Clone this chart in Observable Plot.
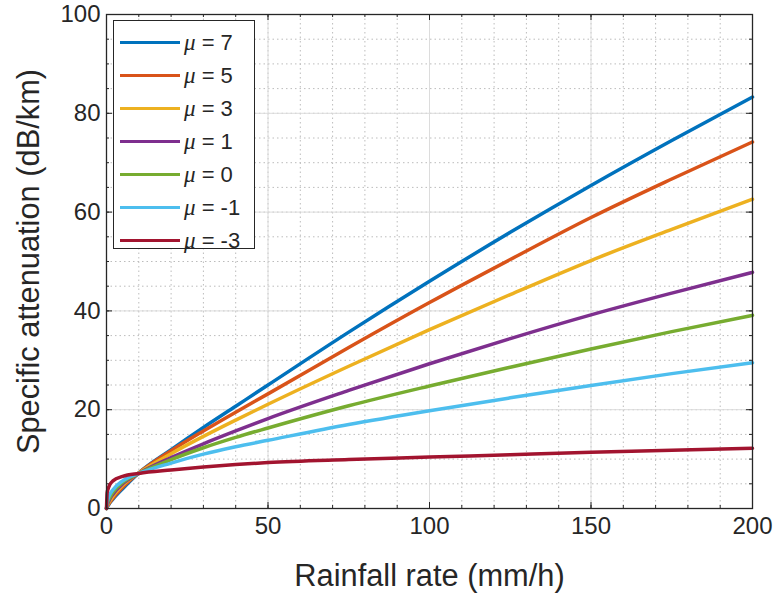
<!DOCTYPE html>
<html>
<head>
<meta charset="utf-8">
<script src="https://cdn.jsdelivr.net/npm/d3@7"></script>
<script src="https://cdn.jsdelivr.net/npm/@observablehq/plot@0.6"></script>
<style>
  body { margin: 0; background: #fff; }
  #wrap { position: relative; width: 779px; height: 599px; font-family: "Liberation Sans", Arial, sans-serif; }
  #legend {
    position: absolute; left: 113px; top: 20px; width: 142px; height: 229px;
    border: 1.4px solid #262626; background: #fff; box-sizing: border-box;
    padding-top: 5px;
  }
  .row { display: flex; align-items: center; height: 33px; }
  .sw { width: 60px; height: 3.5px; margin-left: 6px; margin-right: 4px; }
  .lab { font-size: 22px; color: #262626; white-space: pre; }
  .mu { font-family: "Liberation Serif", serif; font-style: italic; font-size: 23px; }
</style>
</head>
<body>
<div id="wrap"><div id="legend"></div></div>
<script>
// Rainfall rate samples (mm/h)
const rainRate = [0, 0.2, 0.5, 1, 2, 5, 10, 20, 30, 40, 50, 75, 100, 125, 150, 175, 200];

// Specific attenuation (dB/km) for each shape parameter mu
const attenMu7  = [0, 0.3, 0.6, 1.1, 1.9, 4.0, 7.2, 11.9, 16.4, 20.7, 25.0, 35.7, 46.0, 55.9, 65.4, 74.5, 83.3];
const attenMu5  = [0, 0.4, 0.7, 1.2, 2.1, 4.3, 7.2, 11.7, 15.7, 19.5, 23.2, 32.6, 41.7, 50.4, 58.9, 66.7, 74.2];
const attenMu3  = [0, 0.5, 0.9, 1.5, 2.5, 4.7, 7.2, 11.1, 14.6, 17.9, 21.1, 28.8, 36.2, 43.3, 50.2, 56.5, 62.6];
const attenMu1  = [0, 0.7, 1.2, 1.9, 2.9, 5.0, 7.1, 10.3, 13.1, 15.7, 18.2, 23.9, 29.3, 34.4, 39.2, 43.6, 47.8];
const attenMu0  = [0, 0.9, 1.5, 2.2, 3.3, 5.3, 7.1, 9.9, 12.3, 14.4, 16.3, 20.8, 24.8, 28.6, 32.3, 35.8, 39.1];
const attenMuM1 = [0, 1.2, 2.0, 2.8, 3.8, 5.6, 7.1, 9.2, 11.0, 12.5, 13.8, 17.0, 19.8, 22.4, 24.9, 27.3, 29.5];
const attenMuM3 = [0, 3.2, 4.0, 4.8, 5.6, 6.5, 7.1, 7.8, 8.4, 8.9, 9.3, 9.9, 10.4, 10.9, 11.4, 11.8, 12.2];

const muValues = [7, 5, 3, 1, 0, -1, -3];
const seriesColors = ["#0072BD", "#D95319", "#EDB120", "#7E2F8E", "#77AC30", "#4DBEEE", "#A2142F"];
const attenSeries = [attenMu7, attenMu5, attenMu3, attenMu1, attenMu0, attenMuM1, attenMuM3];

const xTicks = [0, 50, 100, 150, 200];
const yTicks = [0, 20, 40, 60, 80, 100];
const xMinor = d3.range(0, 201, 10);
const yMinor = d3.range(0, 101, 5);

const xLabel = "Rainfall rate (mm/h)";
const yLabel = "Specific attenuation (dB/km)";

const rows = [];
attenSeries.forEach((vals, i) => {
  vals.forEach((a, j) => rows.push({mu: muValues[i], rate: rainRate[j], atten: a}));
});

const W = 779, H = 599;
const mL = 106, mR = 27, mT = 14, mB = 91;
const innerW = W - mL - mR, innerH = H - mT - mB;
const ink = "#262626";

const chart = Plot.plot({
  width: W, height: H,
  marginLeft: mL, marginRight: mR, marginTop: mT, marginBottom: mB,
  style: {fontFamily: "Liberation Sans, Arial, sans-serif", color: ink, background: "white"},
  x: {domain: [0, 200]},
  y: {domain: [0, 100]},
  color: {domain: muValues, range: seriesColors},
  marks: [
    Plot.gridX(xMinor, {stroke: "#bcbcbc", strokeOpacity: 1, strokeDasharray: "1.5,3"}),
    Plot.gridY(yMinor, {stroke: "#bcbcbc", strokeOpacity: 1, strokeDasharray: "1.5,3"}),
    Plot.gridX(xTicks, {stroke: "#dcdcdc", strokeOpacity: 1}),
    Plot.gridY(yTicks, {stroke: "#dcdcdc", strokeOpacity: 1}),
    // inward tick marks on all four sides
    Plot.ruleX(xMinor, {stroke: ink, insetTop: innerH - 3}),
    Plot.ruleX(xMinor, {stroke: ink, insetBottom: innerH - 3}),
    Plot.ruleX(xTicks, {stroke: ink, insetTop: innerH - 6}),
    Plot.ruleX(xTicks, {stroke: ink, insetBottom: innerH - 6}),
    Plot.ruleY(yMinor, {stroke: ink, insetRight: innerW - 3}),
    Plot.ruleY(yMinor, {stroke: ink, insetLeft: innerW - 3}),
    Plot.ruleY(yTicks, {stroke: ink, insetRight: innerW - 6}),
    Plot.ruleY(yTicks, {stroke: ink, insetLeft: innerW - 6}),
    Plot.line(rows, {x: "rate", y: "atten", z: "mu", stroke: "mu", strokeWidth: 3.5, curve: "monotone-x"}),
    Plot.frame({stroke: ink, strokeWidth: 1.3}),
    Plot.axisX(xTicks, {tickSize: 0, tickPadding: 8, fontSize: 24, label: null, tickFormat: d => d}),
    Plot.axisY(yTicks, {tickSize: 0, tickPadding: 6, fontSize: 24, label: null, tickFormat: d => d}),
    // axis titles
    Plot.text([xLabel], {text: d => d, frameAnchor: "bottom", textAnchor: "middle", lineAnchor: "middle",
      dy: 68, fontSize: 30.8, fill: ink}),
    Plot.text([yLabel], {text: d => d, frameAnchor: "left", textAnchor: "middle", lineAnchor: "middle",
      rotate: -90, dx: -77, fontSize: 30.8, fill: ink})
  ]
});
document.getElementById("wrap").prepend(chart);

// legend box inside the axes
const legend = d3.select("#legend");
muValues.forEach((mu, i) => {
  const r = legend.append("div").attr("class", "row");
  r.append("div").attr("class", "sw").style("background", seriesColors[i]);
  const t = r.append("span").attr("class", "lab");
  t.append("span").attr("class", "mu").text("\u03bc");
  t.append("span").text(" = " + mu);
});
</script>
</body>
</html>
